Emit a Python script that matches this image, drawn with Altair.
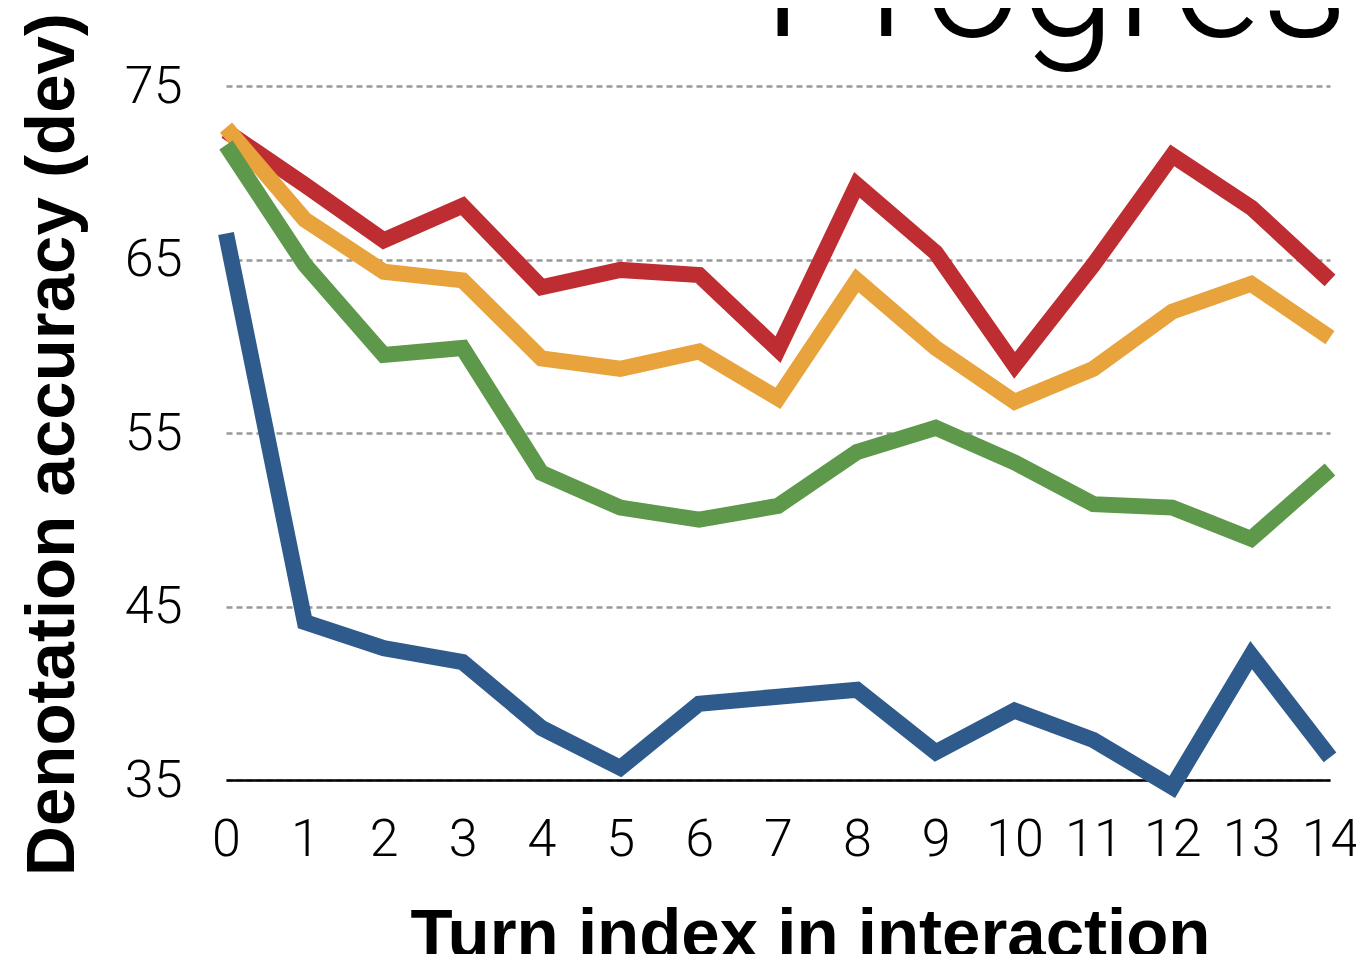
import altair as alt
import pandas as pd

turns = list(range(15))
series_names = ["Red series", "Orange series", "Green series", "Blue series"]
series_colors = ["#BE2D31", "#E8A33D", "#5E984A", "#2E5A8C"]

red_vals = [72.4, 69.3, 66.1, 68.1, 63.4, 64.4, 64.1, 59.8, 69.3, 65.4, 58.9, 64.7, 71.0, 68.0, 63.8]
orange_vals = [72.6, 67.3, 64.3, 63.8, 59.3, 58.7, 59.7, 57.0, 63.8, 59.9, 56.8, 58.7, 62.0, 63.6, 60.5]
green_vals = [71.6, 64.7, 59.5, 59.9, 52.7, 50.7, 50.0, 50.8, 53.9, 55.3, 53.3, 50.9, 50.7, 48.9, 52.9]
blue_vals = [66.5, 44.1, 42.6, 41.8, 38.0, 35.7, 39.4, 39.8, 40.2, 36.6, 39.0, 37.3, 34.6, 42.2, 36.3]

y_ticks = [35, 45, 55, 65, 75]
title_text = ["Progress"]

rows = []
for order, (name, vals) in enumerate(zip(series_names, [red_vals, orange_vals, green_vals, blue_vals])):
    for t, v in zip(turns, vals):
        rows.append({"turn": t, "acc": v, "series": name, "ord": order})
df = pd.DataFrame(rows)

light = "Roboto"
bold = "Liberation Sans"

lines = alt.Chart(df).mark_line(
    strokeWidth=16, strokeJoin="miter", strokeCap="butt", clip=False
).encode(
    x=alt.X(
        "turn:Q",
        scale=alt.Scale(domain=[0, 14], nice=False, zero=False),
        axis=alt.Axis(
            values=turns, format="d", grid=False, ticks=False,
            domain=True, domainColor="#000000", domainWidth=2.5,
            labelFont=light, labelFontWeight=300, labelFontSize=52,
            labelColor="#000000", labelPadding=34, labelFlush=False,
            title="Turn index in interaction", titleFont=bold, titleFontSize=69,
            titleFontWeight="bold", titleColor="#000000", titleAlign="center",
            titleBaseline="alphabetic", titleX=584, titleY=176, titleAngle=0,
            zindex=0,
        ),
    ),
    y=alt.Y(
        "acc:Q",
        scale=alt.Scale(domain=[35, 75], nice=False, zero=False),
        axis=alt.Axis(
            values=y_ticks, grid=True, gridDash=[6, 4], gridColor="#999999",
            gridWidth=2.5, ticks=False, domain=False,
            labelFont=light, labelFontWeight=300, labelFontSize=52,
            labelColor="#000000", labelPadding=44,
            title="Denotation accuracy (dev)", titleFont=bold, titleFontSize=69,
            titleFontWeight="bold", titleColor="#000000", titleAngle=270,
            titleAlign="center", titleBaseline="alphabetic",
            titleX=-153, titleY=358, zindex=0,
        ),
    ),
    color=alt.Color(
        "series:N",
        scale=alt.Scale(domain=series_names, range=series_colors),
        legend=None,
    ),
    order=alt.Order("ord:Q"),
)

title_df = pd.DataFrame({"t": title_text})
title_mark = alt.Chart(title_df).mark_text(
    font=light, fontWeight=300, fontSize=172, align="left",
    baseline="alphabetic", color="#000000"
).encode(
    text="t:N",
    x=alt.value(536),
    y=alt.value(-50),
)

chart = alt.layer(lines, title_mark).properties(
    width=1104,
    height=694,
    background="#ffffff",
    autosize=alt.AutoSizeParams(type="none"),
    padding={"left": 218, "top": 78, "right": 26, "bottom": 174},
).configure_view(stroke="transparent", strokeWidth=0)

chart.save("out.html", embed_options={"renderer": "svg", "actions": False})
